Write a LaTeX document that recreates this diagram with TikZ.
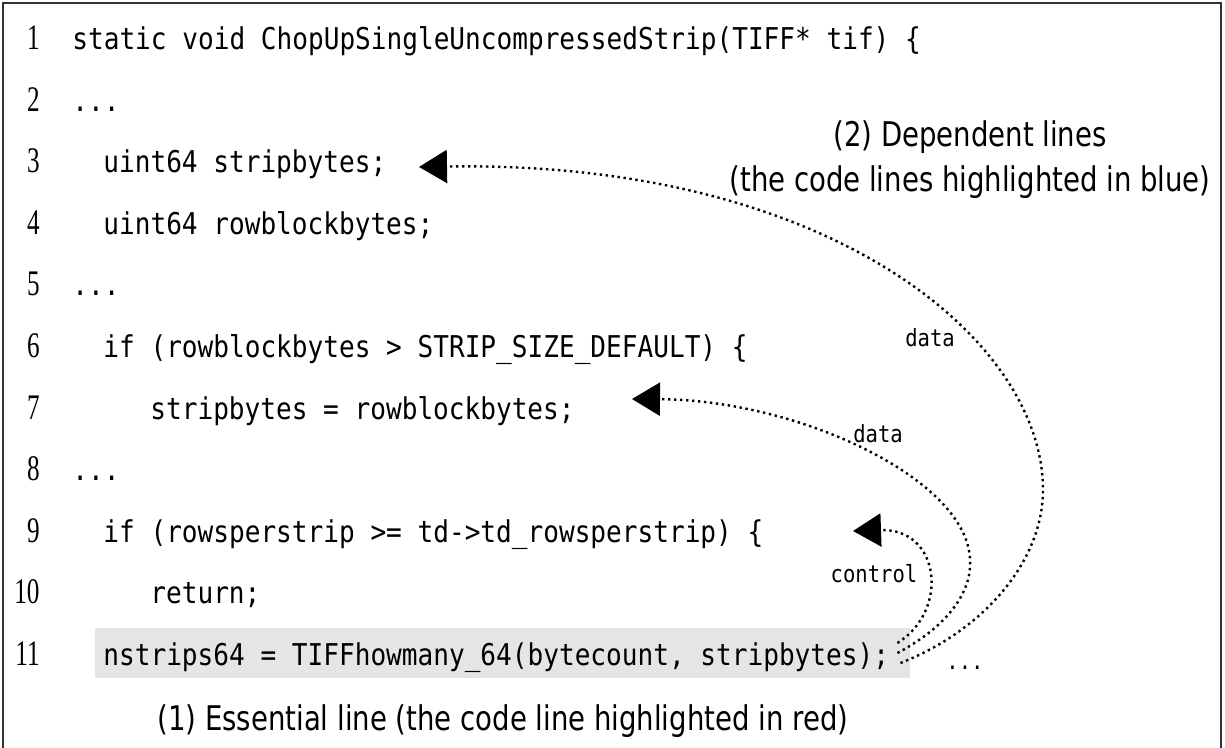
\documentclass[tikz,border=0pt]{standalone}
\usepackage{fontspec}
\usetikzlibrary{arrows.meta}
\newfontfamily\codefont[FakeStretch=0.87]{DejaVu Sans Mono}
\newfontfamily\numfont[FakeStretch=0.7]{Liberation Serif}
\newfontfamily\capfont[FakeStretch=0.81]{DejaVu Sans}
\tikzset{
  code/.style={anchor=base west,inner sep=0pt,font={\codefont\fontsize{15}{18}\selectfont}},
  lineno/.style={anchor=base east,inner sep=0pt,font={\numfont\fontsize{18}{20}\selectfont}},
  lbl/.style={anchor=base,inner sep=0pt,font={\codefont\fontsize{11.8}{14}\selectfont}},
  capt/.style={inner sep=0pt,font={\capfont\fontsize{17}{22.5}\selectfont}},
  dep/.style={line width=1.2pt,dash pattern=on 1.2pt off 1.8pt,-{Triangle[length=14pt,width=16.5pt]}},
}

\begin{document}
\begin{tikzpicture}[x=0.5pt,y=-0.5pt]
      \useasboundingbox (0,0) rectangle (1225,748);
      \draw[line width=0.8pt,black!80] (3,3) rectangle (1221,752);
      % essential line background
      \fill[black!10] (95,628) rectangle (910,678);
      \foreach \i in {1,...,11}
        \node[lineno] (n\i) at (40,{50+(\i-1)*61.5}) {\i};
      \node[code] (l1) at (72,50) {static void ChopUpSingleUncompressedStrip(TIFF* tif) \{};
      \node[code] (l2) at (72,111.5) {...};
      \node[code] (l3) at (103,173) {uint64 stripbytes;};
      \node[code] (l4) at (103,234.5) {uint64 rowblockbytes;};
      \node[code] (l5) at (72,296) {...};
      \node[code] (l6) at (103,357.5) {if (rowblockbytes > STRIP\_SIZE\_DEFAULT) \{};
      \node[code] (l7) at (150,419) {stripbytes = rowblockbytes;};
      \node[code] (l8) at (72,480.5) {...};
      \node[code] (l9) at (103,542) {if (rowsperstrip >= td->td\_rowsperstrip) \{};
      \node[code] (l10) at (150,603.5) {return;};
      \node[code] (l11) at (103,665) {nstrips64 = TIFFhowmany\_64(bytecount, stripbytes);};
      \node[lbl] (more) at (965,669) {...};
      \node[capt,anchor=base west] (ess) at (157,730) {(1) Essential line (the code line highlighted in red)};
      \node[capt,align=center] (deps) at (970,160) {(2) Dependent lines\\(the code lines highlighted in blue)};
      % dependency edges
      \coordinate (s9) at ([shift={(8,-22)}]l11.base east);
      \coordinate (s7) at ([shift={(8,-12)}]l11.base east);
      \coordinate (s3) at ([shift={(11,-2)}]l11.base east);
      \coordinate (t9) at (853,531);
      \coordinate (t7) at (632,399);
      \coordinate (t3) at (419,167);
      \draw[dep] (s9) .. controls (950,610) and (940,528) .. (t9);
      \draw[dep] (s7) .. controls (950,625) and (972,590) .. (970,560)
                      .. controls (968,480) and (800,400) .. (t7);
      \draw[dep] (s3) .. controls (985,630) and (1043,560) .. (1043,490)
                      .. controls (1043,340) and (830,160) .. (t3);
      \node[lbl] (d3) at (930,347) {data};
      \node[lbl] (d7) at (878,442) {data};
      \node[lbl] (c9) at (874,582) {control};
    \end{tikzpicture}
\end{document}
